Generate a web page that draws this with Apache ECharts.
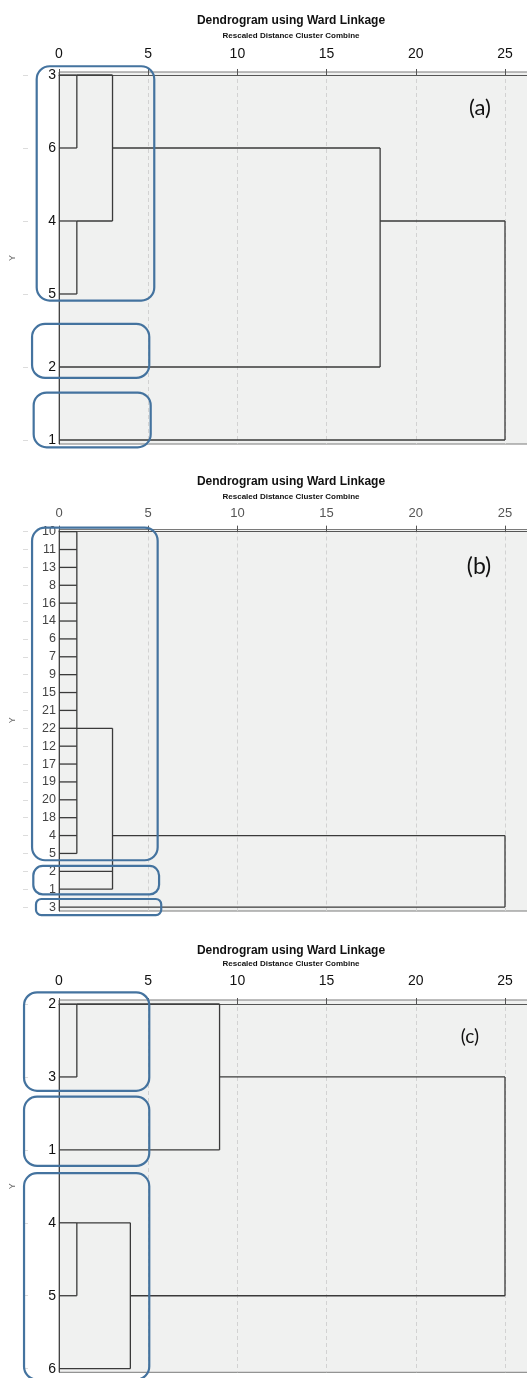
<!DOCTYPE html>
<html>
<head>
<meta charset="utf-8">
<title>Dendrograms using Ward Linkage</title>
<script src="https://cdn.jsdelivr.net/npm/echarts@6/dist/echarts.min.js"></script>
<style>
  html, body { margin: 0; padding: 0; background: #ffffff; }
  #chart { width: 527px; height: 1378px; }
</style>
</head>
<body>
<div id="chart"></div>
<script>
// ---- text ----
const titleText = 'Dendrogram using Ward Linkage';
const subtitleText = 'Rescaled Distance Cluster Combine';
const yAxisName = 'Y';
const panelTags = ['(a)', '(b)', '(c)'];
const distanceTicks = [0, 5, 10, 15, 20, 25];

// ---- panel (a): leaf order and merges (rescaled distance) ----
const leavesA = ['3', '6', '4', '5', '2', '1'];
const mergesA = [
  { id: 'a1', kids: ['3', '6'], dist: 1, at: '3' },
  { id: 'a2', kids: ['4', '5'], dist: 1, at: '4' },
  { id: 'a3', kids: ['a1', 'a2'], dist: 3, at: '6' },
  { id: 'a4', kids: ['a3', '2'], dist: 18, at: '4' },
  { id: 'a5', kids: ['a4', '1'], dist: 25, at: '4' }
];
// cluster outlines: [distance from, distance to, row from, row to]
const boxesA = [
  [-1.25, 5.34, -0.12, 3.09],
  [-1.51, 5.06, 3.41, 4.15],
  [-1.42, 5.14, 4.35, 5.10]
];

// ---- panel (b) ----
const leavesB = ['10', '11', '13', '8', '16', '14', '6', '7', '9', '15', '21',
                 '22', '12', '17', '19', '20', '18', '4', '5', '2', '1', '3'];
const mergesB = [
  { id: 'b1', kids: ['10', '11', '13', '8', '16', '14', '6', '7', '9', '15', '21',
                     '22', '12', '17', '19', '20', '18', '4', '5'], dist: 1, at: '22' },
  { id: 'b2', kids: ['b1', '2', '1'], dist: 3, at: '4' },
  { id: 'b3', kids: ['b2', '3'], dist: 25, at: '4' }
];
const boxesB = [
  [-1.51, 5.53, -0.22, 18.38],
  [-1.44, 5.61, 18.70, 20.29],
  [-1.29, 5.73, 20.55, 21.45]
];

// ---- panel (c) ----
const leavesC = ['2', '3', '1', '4', '5', '6'];
const mergesC = [
  { id: 'c1', kids: ['2', '3'], dist: 1, at: '2' },
  { id: 'c2', kids: ['c1', '1'], dist: 9, at: '3' },
  { id: 'c3', kids: ['4', '5'], dist: 1, at: '4' },
  { id: 'c4', kids: ['c3', '6'], dist: 4, at: '5' },
  { id: 'c5', kids: ['c2', 'c4'], dist: 25, at: '4' }
];
const boxesC = [
  [-1.96, 5.06, -0.16, 1.19],
  [-1.96, 5.06, 1.27, 2.22],
  [-1.96, 5.06, 2.32, 5.15]
];

// ---- layout of the three panels ----
const PLOT_LEFT = 59;
const PLOT_WIDTH = 480;               // runs past the right edge of the page
const X_MAX = 25 * PLOT_WIDTH / 446;  // 25 sits 446px right of 0
const TITLE_X = 291;

const panels = [
  { leaves: leavesA, merges: mergesA, boxes: boxesA, top: 72, height: 372,
    yMin: -0.041, yMax: 5.055, titleY: 21, subY: 36, tagX: 480, tagY: 108, tagSize: 22,
    axisFont: 14, axisColor: '#111', axisMargin: 11, leafFont: 14, leafColor: '#111' },
  { leaves: leavesB, merges: mergesB, boxes: boxesB, top: 529.5, height: 381.5,
    yMin: -0.12, yMax: 21.22, titleY: 482, subY: 497, tagX: 479, tagY: 567, tagSize: 23,
    axisFont: 13, axisColor: '#555', axisMargin: 10, leafFont: 12.5, leafColor: '#444' },
  { leaves: leavesC, merges: mergesC, boxes: boxesC, top: 1000, height: 372.3,
    yMin: -0.055, yMax: 5.05, titleY: 951, subY: 964, tagX: 470, tagY: 1037, tagSize: 19,
    axisFont: 14, axisColor: '#111', axisMargin: 12, leafFont: 14, leafColor: '#111' }
];

// Turn the merge list into horizontal/vertical link segments [x1, y1, x2, y2]
function buildSegments(leaves, merges) {
  const node = {};
  leaves.forEach((l, i) => { node[l] = { row: i, dist: 0 }; });
  const segs = [];
  merges.forEach(m => {
    const rows = m.kids.map(k => node[k].row);
    m.kids.forEach(k => segs.push([node[k].dist, node[k].row, m.dist, node[k].row]));
    segs.push([m.dist, Math.min(...rows), m.dist, Math.max(...rows)]);
    node[m.id] = { row: leaves.indexOf(m.at), dist: m.dist };
  });
  return segs;
}

const FONT = '"Liberation Sans", Arial, sans-serif';
const grids = [], xAxes = [], yAxes = [], series = [], graphics = [];

panels.forEach((p, i) => {
  const rows = p.leaves.map((_, k) => k);
  grids.push({
    left: PLOT_LEFT, top: p.top, width: PLOT_WIDTH, height: p.height,
    show: true, backgroundColor: '#f0f1f0', borderColor: '#7a7a7a', borderWidth: 1,
    containLabel: false, outerBoundsMode: 'none'
  });
  xAxes.push({
    type: 'value', gridIndex: i, position: 'top', min: 0, max: X_MAX,
    axisLine: { show: true, lineStyle: { color: '#555', width: 1 } },
    axisTick: { show: true, inside: false, length: 6, lineStyle: { color: '#555' },
                customValues: distanceTicks },
    axisLabel: { show: true, customValues: distanceTicks, margin: p.axisMargin,
                 fontFamily: FONT, fontSize: p.axisFont, color: p.axisColor },
    splitLine: { show: true, lineStyle: { color: '#d2d2d2', type: [4, 3], width: 1 } }
  });
  // leaf labels
  yAxes.push({
    type: 'value', gridIndex: i, position: 'left', inverse: true, min: p.yMin, max: p.yMax,
    axisLine: { show: true, lineStyle: { color: '#444', width: 1 } },
    axisTick: { show: false },
    axisLabel: { show: true, customValues: rows, margin: 3, fontFamily: FONT,
                 fontSize: p.leafFont, color: p.leafColor,
                 formatter: v => p.leaves[Math.round(v)] },
    splitLine: { show: false }
  });
  // outer faint tick column carrying the axis name
  yAxes.push({
    type: 'value', gridIndex: i, position: 'left', offset: 31, inverse: true,
    min: p.yMin, max: p.yMax,
    name: yAxisName, nameLocation: 'middle', nameGap: 11, nameRotate: 90,
    nameTextStyle: { fontFamily: FONT, fontSize: 9, color: '#666' },
    axisLine: { show: false },
    axisTick: { show: true, length: 5, customValues: rows, lineStyle: { color: '#dcdcdc' } },
    axisLabel: { show: false },
    splitLine: { show: false }
  });

  series.push({
    type: 'custom', coordinateSystem: 'cartesian2d', xAxisIndex: i, yAxisIndex: 2 * i,
    clip: false, silent: true, z: 3,
    encode: { x: [0, 2], y: [1, 3] },
    data: buildSegments(p.leaves, p.merges),
    renderItem: (params, api) => {
      const a = api.coord([api.value(0), api.value(1)]);
      const b = api.coord([api.value(2), api.value(3)]);
      return { type: 'line', shape: { x1: a[0], y1: a[1], x2: b[0], y2: b[1] },
               style: { stroke: '#3a3a3a', lineWidth: 1.3 } };
    }
  });
  series.push({
    type: 'custom', coordinateSystem: 'cartesian2d', xAxisIndex: i, yAxisIndex: 2 * i,
    clip: false, silent: true, z: 5,
    encode: { x: [0, 1], y: [2, 3] },
    data: p.boxes,
    renderItem: (params, api) => {
      const a = api.coord([api.value(0), api.value(2)]);
      const b = api.coord([api.value(1), api.value(3)]);
      const w = b[0] - a[0], h = b[1] - a[1];
      const r = Math.min(13, h / 3);
      return { type: 'rect', shape: { x: a[0], y: a[1], width: w, height: h, r: r },
               style: { fill: 'none', stroke: '#44739f', lineWidth: 2.2 } };
    }
  });

  graphics.push({
    type: 'text', x: TITLE_X, y: p.titleY,
    style: { text: titleText, font: 'bold 12px ' + FONT, fill: '#111',
             textAlign: 'center', textVerticalAlign: 'middle' }
  });
  graphics.push({
    type: 'text', x: TITLE_X, y: p.subY,
    style: { text: subtitleText, font: 'bold 8px ' + FONT, fill: '#111',
             textAlign: 'center', textVerticalAlign: 'middle' }
  });
  graphics.push({
    type: 'text', x: p.tagX, y: p.tagY, z: 10,
    style: { text: panelTags[i], font: p.tagSize + 'px Lato, "Open Sans", sans-serif',
             fill: '#111', textAlign: 'center', textVerticalAlign: 'middle' }
  });
});

const chart = echarts.init(document.getElementById('chart'), null, { renderer: 'canvas' });
chart.setOption({
  animation: false,
  backgroundColor: '#ffffff',
  grid: grids,
  xAxis: xAxes,
  yAxis: yAxes,
  series: series,
  graphic: graphics
});
</script>
</body>
</html>
